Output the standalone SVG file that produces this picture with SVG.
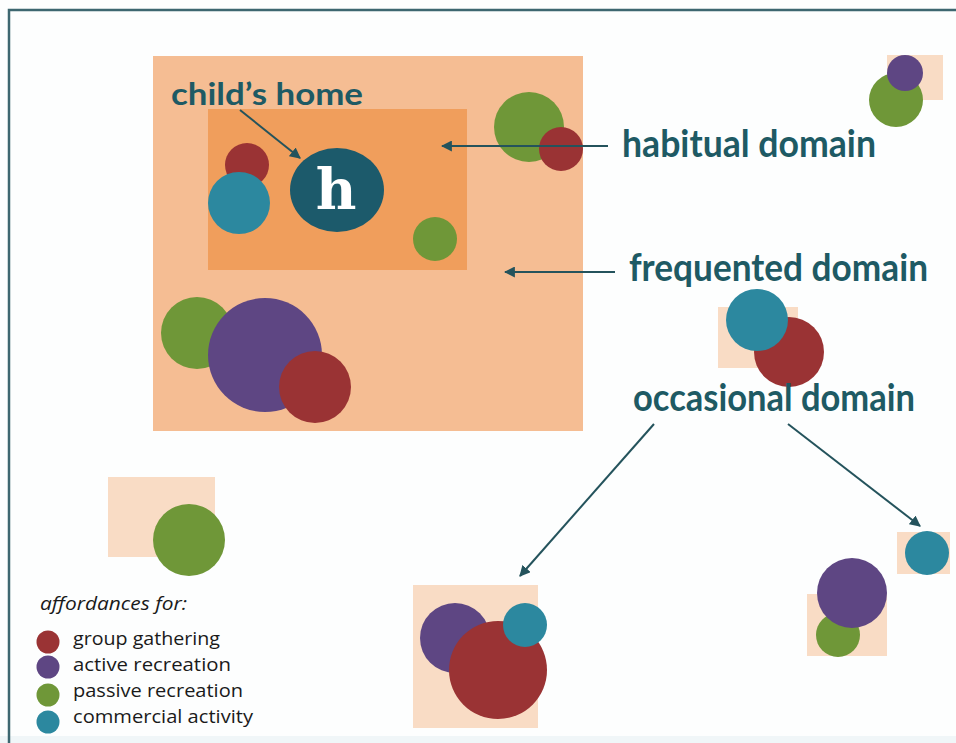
<svg xmlns="http://www.w3.org/2000/svg" width="956" height="743" viewBox="0 0 956 743">
<defs>
<style>
.red{fill:#9a3334}
.pur{fill:#5e4683}
.grn{fill:#6f9738}
.tea{fill:#2c889f}
.pch{fill:#f9dcc5}
.lbl{font-family:Lato,"Open Sans","Liberation Sans",sans-serif;font-weight:bold;fill:#1e5a64}
.leg{font-family:"Open Sans","Liberation Sans",sans-serif;font-size:18px;fill:#1a1a1a}
.arr{stroke:#24535c;stroke-width:2;fill:none;marker-end:url(#ah)}
</style>
<marker id="ah" viewBox="0 0 10 10" refX="9" refY="5" markerWidth="5.5" markerHeight="5.5" orient="auto" markerUnits="strokeWidth">
<path d="M0,0 L10,5 L0,10 z" fill="#24535c"/>
</marker>
</defs>
<rect width="956" height="743" fill="#fdfefe"/>
<rect x="0" y="736" width="956" height="7" fill="#f0f6f8"/>
<path d="M9,743 V10 H956" fill="none" stroke="#3d6770" stroke-width="2.5"/>

<g id="frequented-domain">
<rect x="153" y="56" width="430" height="375" fill="#f5bd93"/>
</g>
<g id="habitual-domain">
<rect x="208" y="109" width="259" height="161" fill="#f09e5c"/>
</g>
<g id="home-cluster">
<circle class="red" cx="247" cy="165" r="22"/>
<circle class="tea" cx="239" cy="203" r="31"/>
<circle class="grn" cx="435" cy="239" r="22"/>
</g>
<g id="home">
<ellipse cx="337" cy="190" rx="47" ry="42" fill="#1c5a6b"/>
<text x="336" y="209" text-anchor="middle" font-family="'DejaVu Serif','Liberation Serif',serif" font-weight="bold" font-size="56" fill="#ffffff">h</text>
</g>
<g id="cluster-top-frequented">
<circle class="grn" cx="529" cy="127" r="35"/>
<circle class="red" cx="561" cy="149" r="22"/>
</g>
<g id="cluster-lower-frequented">
<circle class="grn" cx="197" cy="333" r="36"/>
<circle class="pur" cx="265" cy="355" r="57"/>
<circle class="red" cx="315" cy="387" r="36"/>
</g>
<g id="cluster-top-right">
<rect class="pch" x="887" y="55" width="56" height="45"/>
<circle class="grn" cx="896" cy="100" r="27"/>
<circle class="pur" cx="905" cy="73" r="18"/>
</g>
<g id="cluster-occasional-mid">
<rect class="pch" x="718" y="307" width="80" height="61"/>
<circle class="red" cx="789" cy="352" r="35"/>
<circle class="tea" cx="757" cy="320" r="31"/>
</g>
<g id="cluster-left">
<rect class="pch" x="108" y="477" width="107" height="80"/>
<circle class="grn" cx="189" cy="540" r="36"/>
</g>
<g id="cluster-bottom-mid">
<rect class="pch" x="413" y="585" width="125" height="143"/>
<circle class="pur" cx="455" cy="638" r="35"/>
<circle class="red" cx="498" cy="670" r="49"/>
<circle class="tea" cx="525" cy="625" r="22"/>
</g>
<g id="cluster-bottom-right-small">
<rect class="pch" x="897" y="532" width="53" height="42"/>
<circle class="tea" cx="927" cy="553" r="22"/>
</g>
<g id="cluster-bottom-right">
<rect class="pch" x="807" y="594" width="80" height="62"/>
<circle class="grn" cx="838" cy="635" r="22"/>
<circle class="pur" cx="852" cy="593" r="35"/>
</g>

<g id="connectors">
<line class="arr" x1="240" y1="110" x2="300" y2="158"/>
<line class="arr" x1="608" y1="146" x2="442" y2="146"/>
<line class="arr" x1="615" y1="272" x2="505" y2="272"/>
<line class="arr" x1="654" y1="424" x2="520" y2="576"/>
<line class="arr" x1="788" y1="424" x2="920" y2="526"/>
</g>

<g id="labels">
<text class="lbl" x="171" y="105" font-size="30" textLength="192" lengthAdjust="spacingAndGlyphs">child’s home</text>
<text class="lbl" x="622" y="157" font-size="38" textLength="254" lengthAdjust="spacingAndGlyphs">habitual domain</text>
<text class="lbl" x="629" y="281" font-size="38" textLength="299" lengthAdjust="spacingAndGlyphs">frequented domain</text>
<text class="lbl" x="633" y="411" font-size="38" textLength="282" lengthAdjust="spacingAndGlyphs">occasional domain</text>
</g>

<g id="legend">
<text class="leg" x="40" y="610" font-style="italic" textLength="147" lengthAdjust="spacingAndGlyphs">affordances for:</text>
<circle class="red" cx="48" cy="642" r="11.5"/>
<circle class="pur" cx="48" cy="667" r="11.5"/>
<circle class="grn" cx="48" cy="695" r="11.5"/>
<circle class="tea" cx="48" cy="722" r="11.5"/>
<text class="leg" x="73" y="645" textLength="147" lengthAdjust="spacingAndGlyphs">group gathering</text>
<text class="leg" x="73" y="671" textLength="158" lengthAdjust="spacingAndGlyphs">active recreation</text>
<text class="leg" x="73" y="697" textLength="170" lengthAdjust="spacingAndGlyphs">passive recreation</text>
<text class="leg" x="73" y="723" textLength="180" lengthAdjust="spacingAndGlyphs">commercial activity</text>
</g>
</svg>
